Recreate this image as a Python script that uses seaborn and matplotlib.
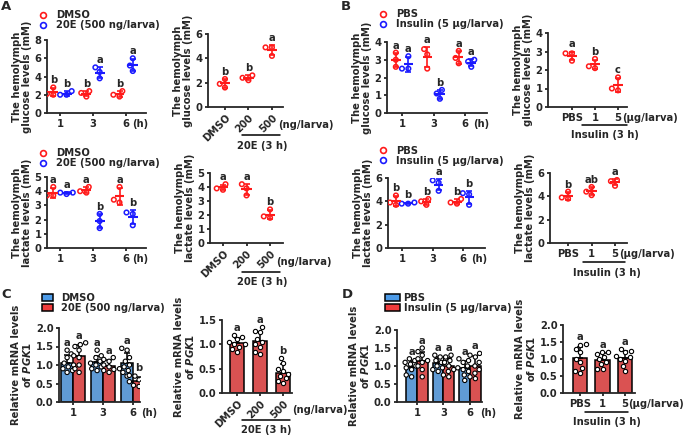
import warnings
warnings.filterwarnings('ignore')
import matplotlib
matplotlib.use('Agg')
import matplotlib.pyplot as plt
import matplotlib.transforms as mtrans
from matplotlib.lines import Line2D
from matplotlib.patches import Patch
import seaborn as sns
import pandas as pd

# ---- data ----
times = ['1', '3', '6']
doses_20e = ['DMSO', '200', '500']
doses_ins = ['PBS', '1', '5']

# A: hemolymph glucose (mM)
a_glu_dmso = [[2.8, 2.0, 2.1], [2.4, 2.2, 1.8], [2.4, 2.0, 1.8]]
a_glu_20e = [[2.4, 2.0, 2.0], [5.0, 4.5, 3.8], [6.0, 5.2, 4.6]]
a_glu_letters = [['b', 'b'], ['b', 'a'], ['b', 'a']]
a_glu_dose = [[2.3, 1.9, 1.6], [2.6, 2.4, 2.2], [4.9, 4.9, 4.2]]
a_glu_dose_letters = ['b', 'b', 'a']

# A: hemolymph lactate (mM)
a_lac_dmso = [[4.3, 3.7, 3.7], [4.3, 4.0, 3.9], [4.3, 3.4, 3.2]]
a_lac_20e = [[3.9, 3.8, 3.9], [2.4, 1.9, 1.4], [2.5, 2.4, 1.6]]
a_lac_letters = [['a', 'a'], ['a', 'b'], ['a', 'b']]
a_lac_dose = [[4.2, 3.9, 3.8], [4.2, 3.9, 3.4], [2.4, 1.9, 1.8]]
a_lac_dose_letters = ['a', 'a', 'b']

# B: hemolymph glucose (mM)
b_glu_pbs = [[3.4, 3.0, 2.6], [3.6, 3.3, 2.5], [3.5, 3.1, 2.8]]
b_glu_ins = [[3.2, 2.5, 2.5], [1.3, 1.1, 0.8], [3.0, 2.9, 2.6]]
b_glu_letters = [['a', 'a'], ['a', 'b'], ['a', 'a']]
b_glu_dose = [[2.9, 2.9, 2.5], [2.6, 2.2, 2.1], [1.6, 1.0, 0.9]]
b_glu_dose_letters = ['a', 'b', 'c']

# B: hemolymph lactate (mM)
b_lac_pbs = [[4.5, 3.9, 3.7], [4.2, 4.0, 3.7], [4.2, 3.9, 3.8]]
b_lac_ins = [[3.9, 3.8, 3.8], [5.8, 5.6, 4.9], [4.7, 4.6, 3.7]]
b_lac_letters = [['b', 'b'], ['b', 'a'], ['b', 'b']]
b_lac_dose = [[4.4, 3.9, 3.8], [4.8, 4.4, 4.1], [5.4, 5.3, 4.9]]
b_lac_dose_letters = ['b', 'ab', 'a']

# C: relative PGK1 mRNA
c_dmso = [[1.4, 1.3, 1.2, 1.05, 1.0, 0.95, 0.9, 0.85, 0.8],
          [1.4, 1.25, 1.2, 1.1, 1.05, 1.0, 0.95, 0.9, 0.85],
          [1.45, 1.4, 1.2, 1.1, 1.0, 0.95, 0.85, 0.8, 0.7]]
c_20e = [[1.6, 1.55, 1.5, 1.4, 1.25, 1.2, 1.0, 0.9, 0.8],
         [1.2, 1.15, 1.1, 1.0, 0.95, 0.9, 0.88, 0.85, 0.8],
         [0.72, 0.7, 0.65, 0.6, 0.55, 0.5, 0.5, 0.45, 0.42]]
c_letters = [['a', 'a'], ['a', 'a'], ['a', 'b']]
c_dose = [[1.2, 1.15, 1.1, 1.05, 1.0, 1.0, 0.95, 0.9, 0.85],
          [1.35, 1.28, 1.25, 1.1, 1.05, 1.0, 0.95, 0.85, 0.8],
          [0.72, 0.62, 0.5, 0.45, 0.4, 0.35, 0.3, 0.25, 0.2]]
c_dose_letters = ['a', 'a', 'b']

# D: relative PGK1 mRNA
d_pbs = [[1.2, 1.15, 1.1, 1.05, 1.0, 0.95, 0.9, 0.75, 0.7],
         [1.3, 1.25, 1.2, 1.15, 1.1, 1.0, 0.95, 0.9, 0.85],
         [1.2, 1.15, 1.1, 1.0, 0.95, 0.9, 0.85, 0.75, 0.6]]
d_ins = [[1.5, 1.4, 1.3, 1.2, 1.15, 1.1, 1.0, 0.9, 0.7],
         [1.3, 1.25, 1.15, 1.1, 1.0, 0.9, 0.85, 0.75, 0.7],
         [1.35, 1.3, 1.25, 1.1, 1.0, 0.9, 0.8, 0.7, 0.65]]
d_letters = [['a', 'a'], ['a', 'a'], ['a', 'a']]
d_dose = [[1.45, 1.4, 1.3, 1.2, 1.0, 0.9, 0.75, 0.65, 0.6],
          [1.2, 1.2, 1.15, 1.05, 1.0, 0.9, 0.85, 0.7, 0.7],
          [1.3, 1.25, 1.2, 1.1, 1.05, 1.0, 0.95, 0.8, 0.65]]
d_dose_letters = ['a', 'a', 'a']

RED = '#ff1a1a'
BLUE = '#1a1aff'
BAR_BLUE = '#4d9be8'
BAR_RED = '#f03c3c'
FS = 7.2

# ---- style ----
sns.set_style('ticks')
plt.rcParams['font.family'] = ['DejaVu Sans']
plt.rcParams['font.weight'] = 'bold'
plt.rcParams['axes.labelweight'] = 'bold'
plt.rcParams['font.size'] = FS
plt.rcParams['mathtext.fontset'] = 'custom'
plt.rcParams['mathtext.rm'] = 'DejaVu Sans:bold'
plt.rcParams['mathtext.it'] = 'DejaVu Sans:italic:bold'
plt.rcParams['axes.linewidth'] = 1.3

W, H = 685, 438
fig = plt.figure(figsize=(W / 100, H / 100), dpi=100)


def add_ax(left, top, right, bottom):
    return fig.add_axes([left / W, 1 - bottom / H, (right - left) / W, (bottom - top) / H])


def long_df(cats, groups, series):
    rows = []
    for g, vals in zip(groups, series):
        for c, pts in zip(cats, vals):
            for v in pts:
                rows.append({'cat': c, 'grp': g, 'val': v})
    return pd.DataFrame(rows)


def style(ax, cats, xlim, ylim, yticks, ylabel, rot=False, fmt='{:g}'):
    ax.set_xlim(*xlim)
    ax.set_ylim(*ylim)
    ax.set_yticks(yticks)
    ax.set_yticklabels([fmt.format(t) for t in yticks])
    ax.set_xticks(range(len(cats)))
    if rot:
        ax.set_xticklabels(cats, rotation=45, ha='right', rotation_mode='anchor')
    else:
        ax.set_xticklabels(cats)
    ax.set_xlabel('')
    ax.set_ylabel(ylabel, linespacing=1.0, labelpad=2)
    sns.despine(ax=ax)
    ax.tick_params(length=2.5, width=1.3, pad=1.5, labelsize=FS)


def below(ax, x, dy, s, ha='left', va='center', dx=0):
    ax.annotate(s, xy=(x, 0), xycoords=ax.get_xaxis_transform(), xytext=(dx, -dy),
                textcoords='offset points', ha=ha, va=va, annotation_clip=False)


def underline(ax, x0, x1, dy):
    tr = mtrans.offset_copy(ax.get_xaxis_transform(), fig=fig, y=-dy, units='points')
    ax.plot([x0, x1], [0, 0], transform=tr, color='black', lw=1.1, clip_on=False)


def letter(ax, x, y, s):
    ax.annotate(s, xy=(x, y), xytext=(0, 1.5), textcoords='offset points',
                ha='center', va='bottom', fontsize=FS)


def hollow(ax, lw=1.1):
    for coll in ax.collections:
        fc = coll.get_facecolor()
        coll.set_edgecolor(fc)
        coll.set_facecolor('none')
        coll.set_linewidth(lw)


def mean_sd(ax, x, pts, color, half=0.15):
    s = pd.Series(pts)
    m, sd = s.mean(), s.std()
    ax.hlines(m, x - half, x + half, color=color, lw=1.5, zorder=3)
    ax.errorbar(x, m, yerr=sd, color=color, capsize=2.2, lw=1.2, capthick=1.2, zorder=3)
    return max(m + sd, s.max())


def dot_time(ax, groups, series, letters, colors):
    df = long_df(times, groups, series)
    sns.swarmplot(data=df, x='cat', y='val', hue='grp', order=times, hue_order=groups,
                  palette=colors, dodge=True, size=3.3, ax=ax, legend=False)
    hollow(ax)
    for i in range(len(times)):
        for j in range(len(groups)):
            x = i + (j - 0.5) * 0.4
            top = mean_sd(ax, x, series[j][i], colors[j])
            letter(ax, x, top, letters[i][j])


def dot_dose(ax, cats, vals, letters):
    df = long_df(cats, ['x'], [vals])
    sns.swarmplot(data=df, x='cat', y='val', order=cats, color=RED, size=3.3, ax=ax)
    hollow(ax)
    for i in range(len(cats)):
        top = mean_sd(ax, i, vals[i], RED, half=0.22)
        letter(ax, i, top, letters[i])


def upper_err(ax, x, pts):
    s = pd.Series(pts)
    m, sd = s.mean(), s.std()
    ax.errorbar(x, m, yerr=[[0], [sd]], color='black', capsize=2, lw=1.1, capthick=1.1, zorder=2)
    return max(m + sd, s.max())


def bar_time(ax, groups, series, letters, colors):
    df = long_df(times, groups, series)
    sns.barplot(data=df, x='cat', y='val', hue='grp', order=times, hue_order=groups,
                palette=colors, errorbar=None, width=0.8, edgecolor='black', linewidth=1.1,
                ax=ax, legend=False, zorder=1)
    for i in range(len(times)):
        for j in range(len(groups)):
            x = i + (j - 0.5) * 0.4
            top = upper_err(ax, x, series[j][i])
            letter(ax, x, top, letters[i][j])
    sns.swarmplot(data=df, x='cat', y='val', hue='grp', order=times, hue_order=groups,
                  palette=['white', 'white'], dodge=True, size=3.1, edgecolor='black',
                  linewidth=0.8, ax=ax, legend=False, zorder=4)


def bar_dose(ax, cats, vals, letters, width):
    df = long_df(cats, ['x'], [vals])
    sns.barplot(data=df, x='cat', y='val', order=cats, color=BAR_RED, errorbar=None,
                width=width, edgecolor='black', linewidth=1.1, ax=ax, zorder=1)
    for i in range(len(cats)):
        top = upper_err(ax, i, vals[i])
        letter(ax, i, top, letters[i])
    sns.swarmplot(data=df, x='cat', y='val', order=cats, color='white', size=3.1,
                  edgecolor='black', linewidth=0.8, ax=ax, zorder=4)


glu_label = 'The hemolymph\nglucose levels (mM)'
lac_label = 'The hemolymph\nlactate levels (mM)'
pgk_label = 'Relative mRNA levels\nof $\\mathit{PGK1}$'

# ---- row 1 ----
ax = add_ax(47, 40, 146, 113)
dot_time(ax, ['DMSO', '20E'], [a_glu_dmso, a_glu_20e], a_glu_letters, [RED, BLUE])
style(ax, times, (-0.39, 2.6), (0, 8), [0, 2, 4, 6, 8], glu_label)
below(ax, 2, 4, '(h)', va='top', dx=4.5)

ax = add_ax(208, 34, 283, 107)
dot_dose(ax, doses_20e, a_glu_dose, a_glu_dose_letters)
style(ax, doses_20e, (-0.72, 2.47), (0, 6), [0, 2, 4, 6], glu_label, rot=True)
below(ax, 2, 13, '(ng/larva)', dx=4.5)
underline(ax, 0.72, 2.34, 20)
below(ax, 1.57, 28, '20E (3 h)', ha='center')

ax = add_ax(387, 42, 487, 113)
dot_time(ax, ['PBS', 'Insulin'], [b_glu_pbs, b_glu_ins], b_glu_letters, [RED, BLUE])
style(ax, times, (-0.48, 2.7), (0, 4), [0, 1, 2, 3, 4], glu_label)
below(ax, 2, 4, '(h)', va='top', dx=6)

ax = add_ax(548, 33, 627, 107)
dot_dose(ax, doses_ins, b_glu_dose, b_glu_dose_letters)
style(ax, doses_ins, (-1.04, 2.39), (0, 4), [0, 1, 2, 3, 4], glu_label)
below(ax, 2, 4, '(\u03bcg/larva)', va='top', dx=3)
underline(ax, 0.43, 2.39, 13)
below(ax, 1.43, 20, 'Insulin (3 h)', ha='center')

# ---- row 2 ----
ax = add_ax(47, 177, 146, 248)
dot_time(ax, ['DMSO', '20E'], [a_lac_dmso, a_lac_20e], a_lac_letters, [RED, BLUE])
style(ax, times, (-0.39, 2.6), (0, 5), [0, 1, 2, 3, 4, 5], lac_label)
below(ax, 2, 4, '(h)', va='top', dx=4.5)

ax = add_ax(210, 173, 283, 243)
dot_dose(ax, doses_20e, a_lac_dose, a_lac_dose_letters)
style(ax, doses_20e, (-0.55, 2.55), (0, 5), [0, 1, 2, 3, 4, 5], lac_label, rot=True)
below(ax, 2, 13.7, '(ng/larva)', dx=4.5)
underline(ax, 0.81, 2.43, 21)
below(ax, 1.66, 28, '20E (3 h)', ha='center')

ax = add_ax(388, 178, 485, 248)
dot_time(ax, ['PBS', 'Insulin'], [b_lac_pbs, b_lac_ins], b_lac_letters, [RED, BLUE])
style(ax, times, (-0.46, 2.72), (0, 6), [0, 2, 4, 6], lac_label)
below(ax, 2, 4, '(h)', va='top', dx=6)

ax = add_ax(550, 173, 627, 243)
dot_dose(ax, doses_ins, b_lac_dose, b_lac_dose_letters)
style(ax, doses_ins, (-0.77, 2.51), (0, 6), [0, 2, 4, 6], lac_label)
below(ax, 2, 4, '(\u03bcg/larva)', va='top', dx=3)
underline(ax, 0.64, 2.43, 13.7)
below(ax, 1.66, 21.6, 'Insulin (3 h)', ha='center')

# ---- row 3 ----
ax = add_ax(59, 328, 140, 402)
bar_time(ax, ['DMSO', '20E'], [c_dmso, c_20e], c_letters, [BAR_BLUE, BAR_RED])
style(ax, times, (-0.47, 2.23), (0, 2), [0, 0.5, 1, 1.5, 2], pgk_label, fmt='{:.1f}')
below(ax, 2, 4, '(h)', va='top', dx=6)

ax = add_ax(222, 320, 292, 393)
bar_dose(ax, doses_20e, c_dose, c_dose_letters, 0.57)
style(ax, doses_20e, (-0.65, 2.39), (0, 1.5), [0, 0.5, 1, 1.5], pgk_label, rot=True, fmt='{:.1f}')
below(ax, 2, 12, '(ng/larva)', dx=6.5)
underline(ax, 0.22, 2.3, 19.4)
below(ax, 1.26, 26.6, '20E (3 h)', ha='center')

ax = add_ax(397, 330, 482, 402)
bar_time(ax, ['PBS', 'Insulin'], [d_pbs, d_ins], d_letters, [BAR_BLUE, BAR_RED])
style(ax, times, (-0.75, 2.45), (0, 2), [0, 0.5, 1, 1.5, 2], pgk_label, fmt='{:.1f}')
below(ax, 2, 4, '(h)', va='top', dx=7)

ax = add_ax(563, 325, 635, 393)
bar_dose(ax, doses_ins, d_dose, d_dose_letters, 0.65)
style(ax, doses_ins, (-0.76, 2.44), (0, 2), [0, 0.5, 1, 1.5, 2], pgk_label, fmt='{:.1f}')
below(ax, 2, 4, '(\u03bcg/larva)', va='top', dx=2.5)
underline(ax, 0.22, 2.13, 13.7)
below(ax, 1.2, 21, 'Insulin (3 h)', ha='center')


# ---- legends ----
def dot_legend(x, y, labels):
    hs = [Line2D([], [], ls='', marker='o', mfc='none', mec=c, mew=1.2, ms=4.2) for c in (RED, BLUE)]
    fig.legend(hs, labels, loc='upper left', bbox_to_anchor=(x / W, 1 - y / H), frameon=False,
               handlelength=0.8, handletextpad=0.9, labelspacing=0.0, borderpad=0,
               borderaxespad=0, fontsize=FS)


def bar_legend(x, y, labels, hl, pad):
    hs = [Patch(facecolor=c, edgecolor='black', lw=1.1) for c in (BAR_BLUE, BAR_RED)]
    fig.legend(hs, labels, loc='upper left', bbox_to_anchor=(x / W, 1 - y / H), frameon=False,
               handlelength=hl, handleheight=0.7, handletextpad=pad, labelspacing=0.0,
               borderpad=0, borderaxespad=0, fontsize=FS)


dot_legend(39, 10, ['DMSO', '20E (500 ng/larva)'])
dot_legend(379, 9, ['PBS', 'Insulin (5 \u03bcg/larva)'])
dot_legend(39, 148, ['DMSO', '20E (500 ng/larva)'])
dot_legend(379, 146, ['PBS', 'Insulin (5 \u03bcg/larva)'])
bar_legend(42, 293, ['DMSO', '20E (500 ng/larva)'], 1.1, 0.8)
bar_legend(385, 293, ['PBS', 'Insulin (5 \u03bcg/larva)'], 1.45, 0.4)

for s, x, y in [('A', 1, 0), ('B', 341, 0), ('C', 1, 288), ('D', 342, 288)]:
    fig.text(x / W, 1 - y / H, s, fontsize=9.5, fontweight='bold', ha='left', va='top')

fig.savefig('out.png', dpi=100)
